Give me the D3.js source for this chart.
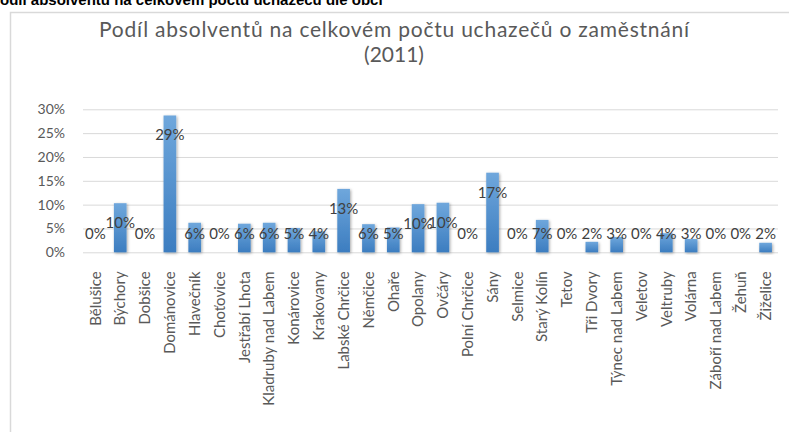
<!DOCTYPE html>
<html>
<head>
<meta charset="utf-8">
<script src="https://cdn.jsdelivr.net/npm/d3@7"></script>
<style>
  body { margin: 0; background: #fff; }
  svg { display: block; }
</style>
</head>
<body>
<div id="chart"></div>
<script>
var obce = ["Bělušice", "Býchory", "Dobšice", "Dománovice", "Hlavečník", "Choťovice",
  "Jestřabí Lhota", "Kladruby nad Labem", "Konárovice", "Krakovany", "Labské Chrčice",
  "Němčice", "Ohaře", "Opolany", "Ovčáry", "Polní Chrčice", "Sány", "Selmice",
  "Starý Kolín", "Tetov", "Tři Dvory", "Týnec nad Labem", "Veletov", "Veltruby",
  "Volárna", "Záboří nad Labem", "Žehuň", "Žiželice"];
var podil = [0, 0.103, 0, 0.287, 0.062, 0, 0.060, 0.062, 0.051, 0.044, 0.133,
  0.059, 0.052, 0.101, 0.104, 0, 0.167, 0, 0.068, 0, 0.022, 0.032, 0, 0.040,
  0.028, 0, 0, 0.020];
var yTicks = [0, 0.05, 0.10, 0.15, 0.20, 0.25, 0.30];

var width = 789, height = 432;
var margin = {top: 109, right: 11, bottom: 180, left: 83};

var svg = d3.select("#chart").append("svg")
    .attr("width", width)
    .attr("height", height);

var defs = svg.append("defs");
var grad = defs.append("linearGradient")
    .attr("id", "barGrad")
    .attr("x1", 0).attr("y1", 0).attr("x2", 0).attr("y2", 1);
grad.append("stop").attr("offset", "0%").attr("stop-color", "#6fa7dc");
grad.append("stop").attr("offset", "100%").attr("stop-color", "#3c7dc0");

var shadow = defs.append("filter").attr("id", "shadow")
    .attr("x", "-50%").attr("y", "-20%").attr("width", "200%").attr("height", "140%");
shadow.append("feDropShadow")
    .attr("dx", 1).attr("dy", 1).attr("stdDeviation", 1.5)
    .attr("flood-color", "#000").attr("flood-opacity", 0.35);

// heading above the chart, cut off by the top edge
svg.append("text")
    .attr("x", -10)
    .attr("y", 5)
    .attr("font-family", "Liberation Sans, Arial, sans-serif")
    .attr("font-weight", "bold")
    .attr("font-size", 15)
    .attr("fill", "#000")
    .text("Podíl absolventů na celkovém počtu uchazečů dle obcí");

// chart box
svg.append("rect")
    .attr("x", 10.5).attr("y", 12.5)
    .attr("width", 800).attr("height", 440)
    .attr("fill", "#fff")
    .attr("stroke", "#d9d9d9")
    .attr("stroke-width", 1.5);

var title = svg.append("text")
    .attr("text-anchor", "middle")
    .attr("font-family", "Lato, sans-serif")
    .attr("font-size", 21)
    .attr("fill", "#595959");
title.append("tspan").attr("x", 394).attr("y", 37).attr("textLength", 590)
    .text("Podíl absolventů na celkovém počtu uchazečů o zaměstnání");
title.append("tspan").attr("x", 394).attr("y", 62).text("(2011)");

var x = d3.scaleBand()
    .domain(obce)
    .range([margin.left, width - margin.right])
    .paddingInner(0.49)
    .paddingOuter(0.245);

var y = d3.scaleLinear()
    .domain([0, 0.30])
    .range([252.3, 109.3]);

var fmt = d3.format(".0%");

var yAxis = d3.axisLeft(y)
    .tickValues(yTicks)
    .tickFormat(fmt)
    .tickSize(-(width - margin.right - margin.left))
    .tickPadding(18);

var gy = svg.append("g")
    .attr("class", "y axis")
    .attr("transform", "translate(" + margin.left + ",0)")
    .call(yAxis);
gy.select(".domain").remove();
gy.selectAll(".tick line").attr("stroke", "#d9d9d9").attr("stroke-width", 1);
gy.selectAll(".tick text")
    .attr("font-family", "Lato, sans-serif")
    .attr("font-size", 14)
    .attr("fill", "#595959");

svg.selectAll(".bar")
    .data(podil)
  .enter().append("rect")
    .attr("class", "bar")
    .attr("x", function(d, i) { return x(obce[i]); })
    .attr("y", function(d) { return y(d); })
    .attr("width", x.bandwidth())
    .attr("height", function(d) { return y(0) - y(d); })
    .attr("fill", "url(#barGrad)")
    .attr("filter", "url(#shadow)");

svg.selectAll(".label")
    .data(podil)
  .enter().append("text")
    .attr("class", "label")
    .attr("x", function(d, i) { return x(obce[i]) + x.bandwidth() / 2; })
    .attr("y", function(d) { return Math.min(y(d) + 20, 234) + 5; })
    .attr("text-anchor", "middle")
    .attr("font-family", "Lato, sans-serif")
    .attr("font-size", 15)
    .attr("fill", "#404040")
    .text(function(d) { return fmt(d); });

var xAxis = d3.axisBottom(x).tickSize(0).tickPadding(0);
var gx = svg.append("g")
    .attr("class", "x axis")
    .attr("transform", "translate(0," + y(0) + ")")
    .call(xAxis);
gx.select(".domain").remove();
gx.selectAll(".tick text")
    .attr("transform", "rotate(-90)")
    .attr("text-anchor", "end")
    .attr("x", -19)
    .attr("y", 0)
    .attr("dy", "0.35em")
    .attr("font-family", "Lato, sans-serif")
    .attr("font-size", 15)
    .attr("fill", "#595959");
</script>
</body>
</html>
